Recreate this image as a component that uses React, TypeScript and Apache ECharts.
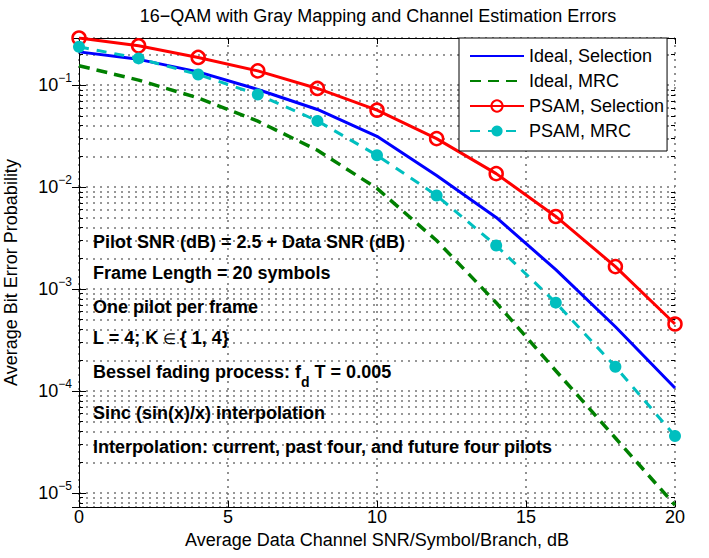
import React, { useEffect, useRef } from "react";
import * as echarts from "echarts";

const FONT = '"Liberation Sans", Arial, Helvetica, sans-serif';

const snrDb = [0, 2, 4, 6, 8, 10, 12, 14, 16, 18, 20];
const idealSelection = [0.212, 0.179, 0.135, 0.0907, 0.0577, 0.0315, 0.013, 0.00504, 0.00155, 0.000427, 0.000107];
const idealMRC = [0.155, 0.112, 0.075, 0.0443, 0.023, 0.00971, 0.00299, 0.000735, 0.000158, 3.46e-5, 7.59e-6];
const psamSelection = [0.29, 0.243, 0.187, 0.138, 0.0928, 0.0568, 0.0299, 0.01355, 0.00515, 0.00166, 0.000454];
const psamMRC = [0.238, 0.183, 0.127, 0.081, 0.0446, 0.0205, 0.00828, 0.00267, 0.000735, 0.000173, 3.62e-5];

const yMin = 7.28e-6;
const yMax = 0.29;
const decades = [1e-6, 1e-5, 1e-4, 1e-3, 1e-2, 1e-1];
const multipliers = [2, 3, 4, 5, 6, 7, 8, 9];
const minorValues: number[] = [];
decades.forEach((d) => multipliers.forEach((m) => {
  const v = d * m;
  if (v > yMin && v < yMax) minorValues.push(v);
}));

const annotations = [
  "Pilot SNR (dB) = 2.5 + Data SNR (dB)",
  "Frame Length = 20 symbols",
  "One pilot per frame",
  "{a|L = 4; K}{e| ∈ }{a|{ 1, 4}}",
  "{a|Bessel fading process: f}{b|d}{a| T = 0.005}",
  "Sinc (sin(x)/x) interpolation",
  "Interpolation: current, past four, and future four pilots",
];
const annotationY = [242, 273, 307, 338, 372, 413, 447];

const pairs = (ys: number[]) => snrDb.map((x, i) => [x, ys[i]]);

export default function App() {
  const ref = useRef<HTMLDivElement>(null);
  useEffect(() => {
    document.body.style.margin = "0";
    if (!ref.current) return;
    const chart = echarts.init(ref.current, null, { renderer: "svg" });
    const sparse = () => ({ type: [2, 5], color: "#767676", width: 1.6 });
    const yLabelFmt = (v: number) => {
      const l = Math.log10(v);
      if (Math.abs(l - Math.round(l)) > 1e-6) return "";
      const e = Math.round(l);
      return `{b|10}{s|${e < 0 ? "−" : ""}${Math.abs(e)}}`;
    };
    const yAxisBase = () => ({
      type: "log" as const,
      min: yMin,
      max: yMax,
      logBase: 10,
      axisLine: { show: true, lineStyle: { color: "#000", width: 1 } },
      axisTick: { show: true, inside: true, length: 7, lineStyle: { color: "#000" } },
    });
    const minorAxis = (position: string, grid: boolean) => ({
      type: "log" as const,
      min: yMin,
      max: yMax,
      logBase: 10,
      position,
      axisLine: { show: false },
      axisLabel: { show: false },
      axisTick: { show: true, inside: true, length: 4, customValues: minorValues, lineStyle: { color: "#000" } },
      splitLine: { show: grid, lineStyle: sparse() },
    });
    const xAxisBase = () => ({
      type: "value" as const,
      min: 0,
      max: 20,
      interval: 5,
      axisLine: { show: true, lineStyle: { color: "#000", width: 1 } },
      axisTick: { show: true, inside: true, length: 6, lineStyle: { color: "#000" } },
    });
    const hiddenSym = { color: "rgba(0,0,0,0)", borderColor: "rgba(0,0,0,0)", borderWidth: 0, opacity: 0 };
    chart.setOption({
      animation: false,
      backgroundColor: "#fff",
      title: {
        text: "16−QAM with Gray Mapping and Channel Estimation Errors",
        left: 378,
        top: 7,
        padding: 0,
        textAlign: "center",
        textStyle: { fontFamily: FONT, fontSize: 18, fontWeight: "normal", color: "#000" },
      },
      grid: { left: 79, right: 34, top: 38, bottom: 51, containLabel: false, outerBoundsMode: "none" },
      xAxis: [
        {
          ...xAxisBase(),
          position: "bottom",
          name: "Average Data Channel SNR/Symbol/Branch, dB",
          nameLocation: "middle",
          nameGap: 19,
          nameTextStyle: { fontFamily: FONT, fontSize: 18, color: "#000" },
          axisLabel: { margin: 1, fontFamily: FONT, fontSize: 18, color: "#000" },
          splitLine: { show: true, lineStyle: sparse() },
        },
        {
          ...xAxisBase(),
          position: "top",
          axisLabel: { show: false },
          splitLine: { show: false },
        },
      ],
      yAxis: [
        {
          ...yAxisBase(),
          position: "left",
          name: "Average Bit Error Probability",
          nameLocation: "middle",
          nameGap: 59,
          nameTextStyle: { fontFamily: FONT, fontSize: 18, color: "#000" },
          axisLabel: {
            margin: 7,
            formatter: yLabelFmt,
            rich: {
              b: { fontFamily: FONT, fontSize: 18, color: "#000" },
              s: { fontFamily: FONT, fontSize: 12, color: "#000", padding: [0, 0, 14, 0] },
            },
          },
          splitLine: { show: true, lineStyle: sparse() },
        },
        {
          ...yAxisBase(),
          position: "right",
          axisLabel: { show: false },
          splitLine: { show: false },
        },
        minorAxis("left", true),
        minorAxis("right", false),
      ],
      legend: {
        data: [
          { name: "Ideal, Selection", itemStyle: hiddenSym },
          { name: "Ideal, MRC", itemStyle: hiddenSym },
          { name: "PSAM, Selection" },
          { name: "PSAM, MRC" },
        ],
        orient: "vertical",
        left: 459,
        top: 38,
        itemWidth: 54,
        itemHeight: 14,
        itemGap: 7,
        padding: [9, 3, 11, 10],
        backgroundColor: "#fff",
        borderColor: "#000",
        borderWidth: 1,
        textStyle: { fontFamily: FONT, fontSize: 18, color: "#000" },
        z: 10,
      },
      series: [
        {
          name: "Ideal, Selection",
          type: "line",
          data: pairs(idealSelection),
          showSymbol: false,
          symbol: "none",
          lineStyle: { color: "#0000ff", width: 3 },
          itemStyle: { color: "#0000ff" },
          z: 3,
        },
        {
          name: "Ideal, MRC",
          type: "line",
          data: pairs(idealMRC),
          showSymbol: false,
          symbol: "none",
          lineStyle: { color: "#008000", width: 3.5, type: [11, 7] },
          itemStyle: { color: "#008000" },
          z: 3,
        },
        {
          name: "PSAM, Selection",
          type: "line",
          data: pairs(psamSelection),
          symbol: "circle",
          symbolSize: 13,
          showSymbol: true,
          lineStyle: { color: "#ff0000", width: 3 },
          itemStyle: { color: "rgba(255,255,255,0)", borderColor: "#ff0000", borderWidth: 2.5 },
          z: 4,
        },
        {
          name: "PSAM, MRC",
          type: "line",
          data: pairs(psamMRC),
          symbol: "circle",
          symbolSize: 12,
          showSymbol: true,
          lineStyle: { color: "#00bfbf", width: 3, type: [10, 8] },
          itemStyle: { color: "#00bfbf" },
          z: 4,
        },
      ],
      graphic: annotations.map((t, i) => ({
        type: "text",
        x: 93,
        y: annotationY[i],
        z: 20,
        style: {
          text: t,
          fill: "#000",
          font: `bold 18px ${FONT}`,
          verticalAlign: "middle",
          rich: {
            a: { fontFamily: FONT, fontSize: 18, fontWeight: "bold", fill: "#000" },
            e: { fontFamily: FONT, fontSize: 15, fontWeight: "normal", fill: "#000" },
            b: { fontFamily: FONT, fontSize: 14, fontWeight: "bold", fill: "#000", padding: [20, 0, 0, 0] },
          },
        },
      })),
    });
    return () => chart.dispose();
  }, []);
  return <div ref={ref} style={{ width: 709, height: 558 }} />;
}
